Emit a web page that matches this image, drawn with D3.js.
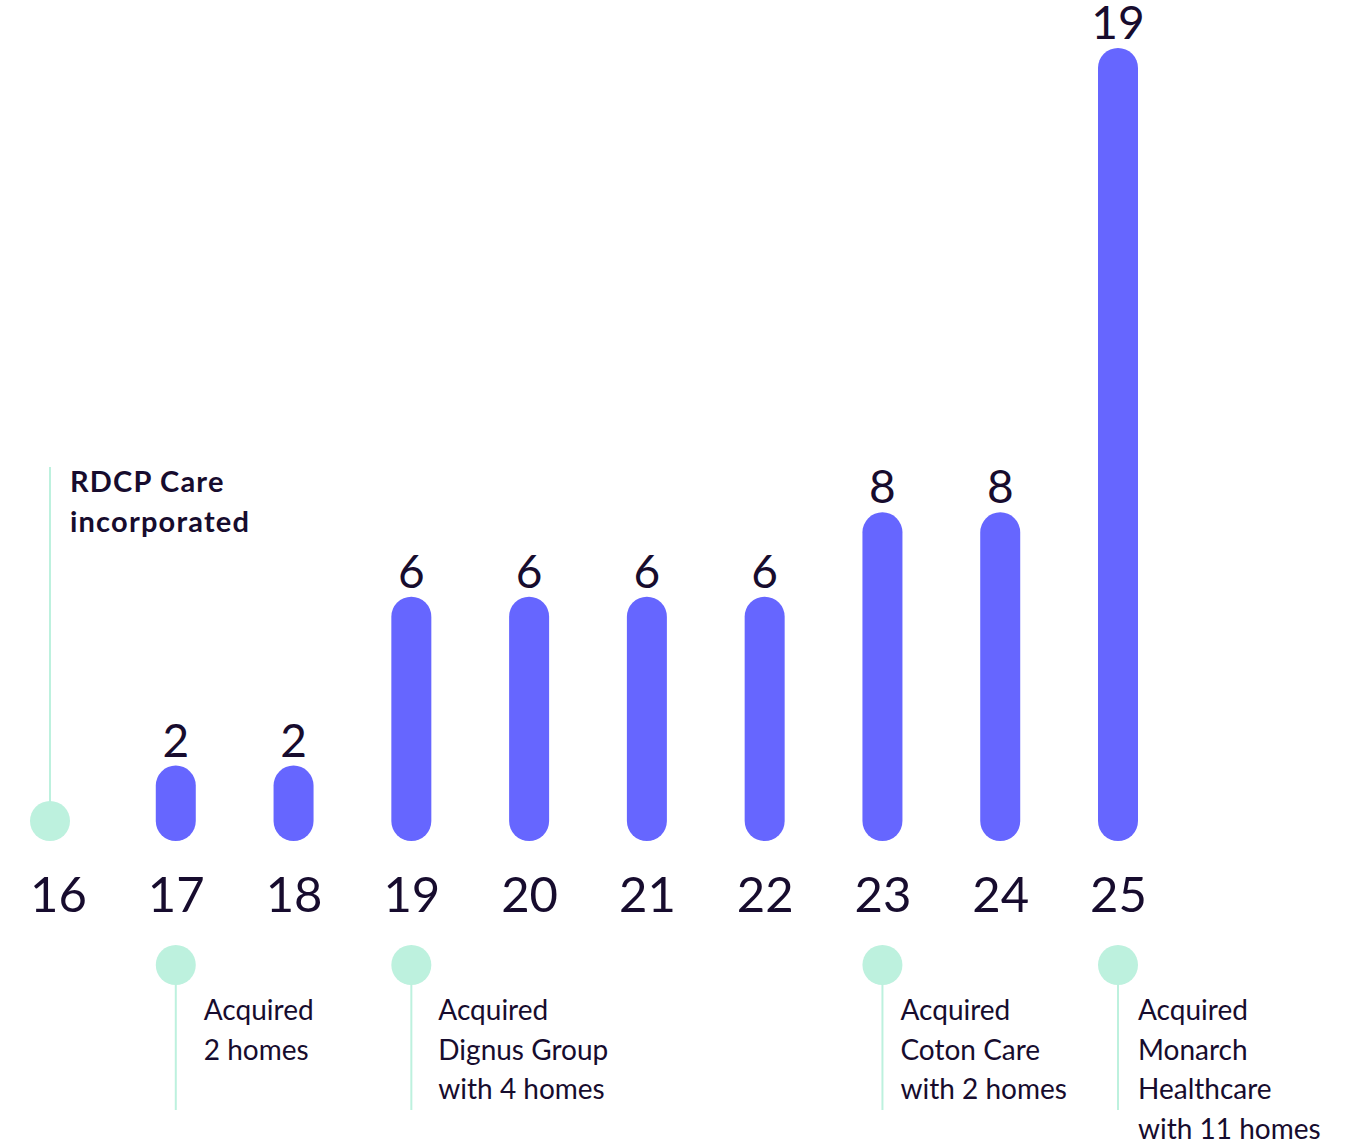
<!DOCTYPE html>
<html>
<head>
<meta charset="utf-8">
<script src="https://cdn.jsdelivr.net/npm/d3@7"></script>
<style>
  html, body { margin: 0; padding: 0; background: #fff; }
  svg { display: block; }
</style>
</head>
<body>
<svg id="chart" width="1345" height="1141"></svg>
<script>
// years on the axis and homes owned at each one
const years = ['16', '17', '18', '19', '20', '21', '22', '23', '24', '25'];
const homes = [0, 2, 2, 6, 6, 6, 6, 8, 8, 19];

// milestones under the axis
const milestoneYears = ['17', '19', '23', '25'];
const milestoneText = [
    ['Acquired', '2 homes'],
    ['Acquired', 'Dignus Group', 'with 4 homes'],
    ['Acquired', 'Coton Care', 'with 2 homes'],
    ['Acquired', 'Monarch', 'Healthcare', 'with 11 homes']
];

const startYear = '16';
const startText = ['RDCP Care', 'incorporated'];

const barColor = '#6666ff';
const mint = '#bdf1de';
const ink = '#170c2e';
const font = 'Lato, "Open Sans", sans-serif';

// how far each milestone note sits right of its marker
const noteGap = { '17': 28, '19': 27, '23': 18, '25': 20 };

const svg = d3.select('#chart');

const x = d3.scalePoint()
    .domain(years)
    .range([58, 1118]);

const y = d3.scaleLinear()
    .domain([0, 19])
    .range([850, 48]);

const baseY = 841;     // bottom of the bars
const barW = 40;
const startX = x(startYear) - 8;   // the start marker sits a bit left of its label

const data = years.map((yr, i) => ({ year: yr, value: homes[i] }));
const bars = data.filter(d => d.value > 0);

// start marker: line up to the "incorporated" note
const start = svg.append('g').attr('class', 'start');
start.append('line')
    .attr('x1', startX).attr('x2', startX)
    .attr('y1', 467).attr('y2', baseY - barW / 2)
    .attr('stroke', mint).attr('stroke-width', 2);
start.append('circle')
    .attr('cx', startX).attr('cy', baseY - barW / 2)
    .attr('r', barW / 2)
    .attr('fill', mint);
start.append('text')
    .attr('y', 492)
    .attr('font-family', font)
    .attr('font-weight', 700)
    .attr('font-size', 29)
    .attr('letter-spacing', 1.2)
    .attr('fill', ink)
    .selectAll('tspan')
    .data(startText)
    .join('tspan')
    .attr('x', startX + 20)
    .attr('dy', (d, i) => i ? 40 : 0)
    .text(d => d);

// bars
svg.append('g').attr('class', 'bars')
    .selectAll('rect')
    .data(bars)
    .join('rect')
    .attr('x', d => x(d.year) - barW / 2)
    .attr('y', d => y(d.value))
    .attr('width', barW)
    .attr('height', d => baseY - y(d.value))
    .attr('rx', barW / 2)
    .attr('fill', barColor);

// value labels
svg.append('g').attr('class', 'values')
    .selectAll('text')
    .data(bars)
    .join('text')
    .attr('x', d => x(d.year))
    .attr('y', d => y(d.value) - 9)
    .attr('text-anchor', 'middle')
    .attr('font-family', font)
    .attr('font-size', 46)
    .attr('fill', ink)
    .text(d => d.value);

// year axis
const axis = svg.append('g')
    .attr('class', 'axis')
    .attr('transform', 'translate(0, 912)')
    .call(d3.axisBottom(x).tickSize(0).tickPadding(0));
axis.select('.domain').remove();
axis.selectAll('text')
    .attr('dy', 0)
    .attr('font-family', font)
    .attr('font-size', 49)
    .attr('fill', ink);

// milestones below the axis
const ms = svg.append('g').attr('class', 'milestones')
    .selectAll('g')
    .data(milestoneYears.map((yr, i) => ({ year: yr, lines: milestoneText[i] })))
    .join('g')
    .attr('transform', d => `translate(${x(d.year)}, 0)`);

ms.append('line')
    .attr('y1', 965).attr('y2', 1110)
    .attr('stroke', mint).attr('stroke-width', 2);
ms.append('circle')
    .attr('cy', 965).attr('r', 20)
    .attr('fill', mint);
ms.append('text')
    .attr('y', 1020)
    .attr('font-family', font)
    .attr('font-size', 28)
    .attr('fill', ink)
    .each(function(d) {
        d3.select(this).selectAll('tspan')
            .data(d.lines)
            .join('tspan')
            .attr('x', noteGap[d.year])
            .attr('dy', (t, i) => i ? 39.5 : 0)
            .text(t => t);
    });
</script>
</body>
</html>
